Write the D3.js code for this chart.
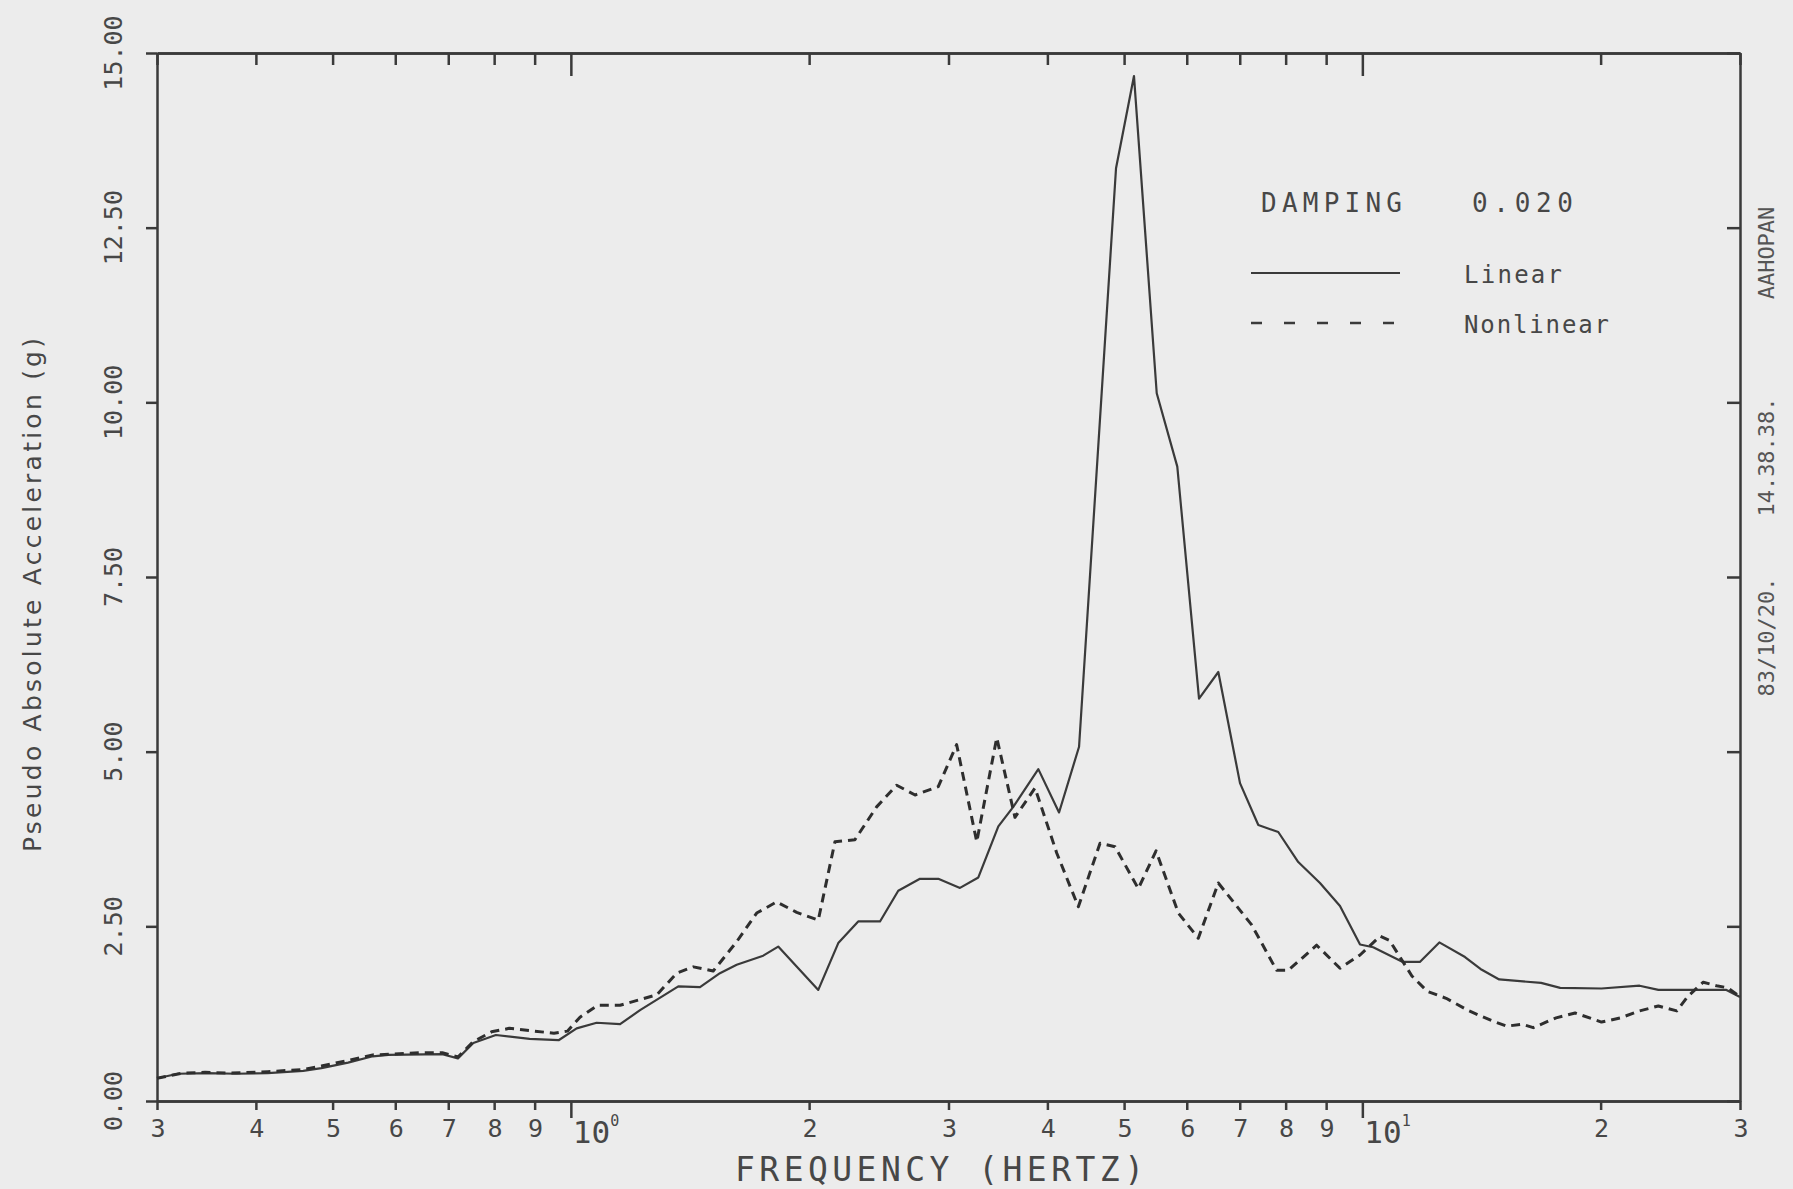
<!DOCTYPE html>
<html><head><meta charset="utf-8">
<script src="https://cdn.jsdelivr.net/npm/d3@7"></script>
<style>html,body{margin:0;padding:0;background:#ececec;} svg{display:block}</style>
</head><body>
<svg id="chart" width="1793" height="1189"></svg>
<script>
// ---------- data ----------
const freqLinear = [0.300,0.319,0.347,0.378,0.414,0.459,0.484,0.523,0.562,0.588,0.688,0.720,0.753,0.804,0.887,0.965,
  1.017,1.078,1.154,1.223,1.367,1.456,1.543,1.620,1.750,1.828,2.054,2.177,2.307,2.458,2.592,2.761,2.912,3.102,3.272,
  3.468,3.622,3.896,4.138,4.386,4.884,5.146,5.498,5.837,6.218,6.577,7.005,7.388,7.830,8.299,8.840,9.370,9.933,10.32,
  11.25,11.82,12.51,13.48,14.10,14.89,16.82,17.78,20.05,22.40,23.66,28.84,30.00];
const accLinear = [0.325,0.39,0.40,0.39,0.40,0.43,0.47,0.55,0.64,0.66,0.67,0.61,0.83,0.945,0.89,0.87,
  1.04,1.12,1.10,1.30,1.64,1.63,1.83,1.95,2.08,2.21,1.59,2.26,2.57,2.57,3.01,3.18,3.18,3.05,3.20,
  3.93,4.21,4.75,4.13,5.07,13.35,14.67,10.13,9.08,5.76,6.14,4.55,3.95,3.85,3.42,3.12,2.79,2.24,2.20,
  1.99,1.99,2.27,2.06,1.89,1.74,1.69,1.62,1.61,1.65,1.59,1.59,1.49];

const freqNonlinear = [0.300,0.323,0.345,0.373,0.414,0.459,0.484,0.523,0.562,0.596,0.644,0.688,0.720,0.753,0.794,0.836,
  0.952,0.990,1.027,1.081,1.154,1.284,1.361,1.428,1.513,1.620,1.717,1.820,1.929,2.054,2.156,2.285,2.434,2.580,2.722,
  2.912,3.072,3.257,3.452,3.640,3.859,4.110,4.377,4.662,4.870,5.211,5.487,5.855,6.205,6.577,7.247,7.793,8.061,8.755,
  9.370,9.933,10.53,10.82,11.55,12.08,12.76,13.64,14.57,15.22,15.91,16.44,17.57,18.57,20.05,21.19,22.40,23.66,24.96,
  25.79,26.96,28.01,28.96,30.00];
const accNonlinear = [0.325,0.40,0.41,0.40,0.42,0.45,0.50,0.58,0.66,0.67,0.69,0.69,0.63,0.85,0.99,1.04,
  0.97,1.00,1.20,1.37,1.37,1.52,1.83,1.92,1.86,2.28,2.69,2.85,2.70,2.59,3.71,3.74,4.21,4.52,4.38,
  4.50,5.10,3.71,5.20,4.06,4.48,3.55,2.78,3.69,3.64,3.04,3.58,2.69,2.33,3.12,2.52,1.87,1.87,2.23,
  1.90,2.09,2.36,2.30,1.79,1.57,1.47,1.29,1.15,1.07,1.10,1.05,1.19,1.26,1.13,1.19,1.29,1.36,1.29,
  1.50,1.70,1.65,1.62,1.49];

const yTickValues = [0, 2.5, 5, 7.5, 10, 12.5, 15];
const xMinorTicks = [0.3,0.4,0.5,0.6,0.7,0.8,0.9,2,3,4,5,6,7,8,9,20,30];
const xDecadeTicks = [1, 10];
const decadeExponents = ["0", "1"];
const legendTitle = "DAMPING";
const dampingValue = "0.020";
const seriesNames = ["Linear", "Nonlinear"];
const xTitle = "FREQUENCY (HERTZ)";
const yTitle = "Pseudo Absolute Acceleration (g)";
const stampTexts = ["83/10/20.", "14.38.38.", "AAHOPAN"];

// ---------- drawing ----------
const ink = "#3a3a3a";
const textInk = "#474747";
const mono = "'DejaVu Sans Mono', 'Liberation Mono', monospace";
const svg = d3.select("#chart");
svg.append("rect").attr("width",1793).attr("height",1189).attr("fill","#ececec");

const x = d3.scaleLog().domain([0.3, 30]).range([157, 1740]);
const y = d3.scaleLinear().domain([0, 15]).range([1101, 53]);

function styleAxis(g){
  g.selectAll(".domain").attr("stroke", ink).attr("stroke-width", 2.5);
  g.selectAll(".tick line").attr("stroke", ink).attr("stroke-width", 2.5);
  g.selectAll(".tick text").remove();
}
// bottom
svg.append("g").attr("transform",`translate(0,${y(0)})`)
  .call(d3.axisBottom(x).tickValues(xMinorTicks).tickSize(9).tickSizeOuter(0).tickFormat("")).call(styleAxis);
svg.append("g").attr("transform",`translate(0,${y(0)})`)
  .call(d3.axisBottom(x).tickValues(xDecadeTicks).tickSize(17).tickSizeOuter(0).tickFormat("")).call(styleAxis);
// top
svg.append("g").attr("transform",`translate(0,${y(15)})`)
  .call(d3.axisTop(x).tickValues(xMinorTicks).tickSize(-12).tickSizeOuter(0).tickFormat("")).call(styleAxis);
svg.append("g").attr("transform",`translate(0,${y(15)})`)
  .call(d3.axisTop(x).tickValues(xDecadeTicks).tickSize(-23).tickSizeOuter(0).tickFormat("")).call(styleAxis);
// left
svg.append("g").attr("transform",`translate(${x(0.3)},0)`)
  .call(d3.axisLeft(y).tickValues(yTickValues).tickSize(11).tickSizeOuter(0).tickFormat("")).call(styleAxis);
// right
svg.append("g").attr("transform",`translate(${x(30)},0)`)
  .call(d3.axisRight(y).tickValues(yTickValues).tickSize(-13).tickSizeOuter(0).tickFormat("")).call(styleAxis);

// x tick labels
const digit = v => String(Math.round(v / Math.pow(10, Math.floor(Math.log10(v) + 1e-9))));
svg.append("g").selectAll("text").data(xMinorTicks).join("text")
  .attr("x", d => x(d) + 1).attr("y", 1137)
  .attr("text-anchor","middle").attr("font-family", mono).attr("font-size", 25)
  .attr("fill", textInk).text(d => digit(d));
const dec = svg.append("g").selectAll("text").data(xDecadeTicks).join("text")
  .attr("x", d => x(d) + 2).attr("y", 1143)
  .attr("font-family", mono).attr("font-size", 31).attr("fill", textInk);
dec.append("tspan").text("10");
dec.append("tspan").attr("font-size", 15).attr("dy", -17).text((d,i) => decadeExponents[i]);

// y tick labels (rotated)
svg.append("g").selectAll("text").data(yTickValues).join("text")
  .attr("transform", d => `translate(122,${y(d)}) rotate(-90)`)
  .attr("text-anchor","middle").attr("font-family", mono).attr("font-size", 25)
  .attr("fill", textInk).text(d => d3.format(".2f")(d));

// axis titles
svg.append("text").attr("x", 735).attr("y", 1181)
  .attr("font-family", mono).attr("font-size", 33).attr("fill", textInk)
  .attr("textLength", 409).attr("lengthAdjust","spacing").text(xTitle);
svg.append("text").attr("transform", "translate(41,595) rotate(-90)")
  .attr("text-anchor","middle").attr("font-family", "'DejaVu Sans', 'Liberation Sans', sans-serif")
  .attr("font-size", 25).attr("fill", textInk)
  .attr("textLength", 514).attr("lengthAdjust","spacing").text(yTitle);

// stamp on right
const stampY = [637, 457, 253];
svg.append("g").selectAll("text").data(stampTexts).join("text")
  .attr("transform", (d,i) => `translate(1774,${stampY[i]}) rotate(-90)`)
  .attr("text-anchor","middle").attr("font-family", mono).attr("font-size", 22)
  .attr("fill", "#555").text(d => d);

// curves
const line = d3.line().x(d => x(d[0])).y(d => y(d[1]));
svg.append("path").datum(d3.zip(freqLinear, accLinear))
  .attr("d", line).attr("fill","none").attr("stroke", ink).attr("stroke-width", 2.2)
  .attr("stroke-linejoin","round");
svg.append("path").datum(d3.zip(freqNonlinear, accNonlinear))
  .attr("d", line).attr("fill","none").attr("stroke", "#2e2e2e").attr("stroke-width", 3)
  .attr("stroke-dasharray","9,6").attr("stroke-linejoin","round");

// legend
svg.append("text").attr("x",1261).attr("y",212).attr("font-family",mono).attr("font-size",26)
  .attr("fill",textInk).attr("textLength",141).attr("lengthAdjust","spacing").text(legendTitle);
svg.append("text").attr("x",1472).attr("y",212).attr("font-family",mono).attr("font-size",26)
  .attr("fill",textInk).attr("textLength",101).attr("lengthAdjust","spacing").text(dampingValue);
svg.append("line").attr("x1",1251).attr("x2",1400).attr("y1",273).attr("y2",273)
  .attr("stroke",ink).attr("stroke-width",2);
svg.append("line").attr("x1",1251).attr("x2",1398).attr("y1",323).attr("y2",323)
  .attr("stroke",ink).attr("stroke-width",2.5).attr("stroke-dasharray","11,22");
svg.append("text").attr("x",1464).attr("y",283).attr("font-family",mono).attr("font-size",24)
  .attr("fill",textInk).attr("textLength",98).attr("lengthAdjust","spacing").text(seriesNames[0]);
svg.append("text").attr("x",1464).attr("y",333).attr("font-family",mono).attr("font-size",24)
  .attr("fill",textInk).attr("textLength",145).attr("lengthAdjust","spacing").text(seriesNames[1]);
</script>
</body></html>
